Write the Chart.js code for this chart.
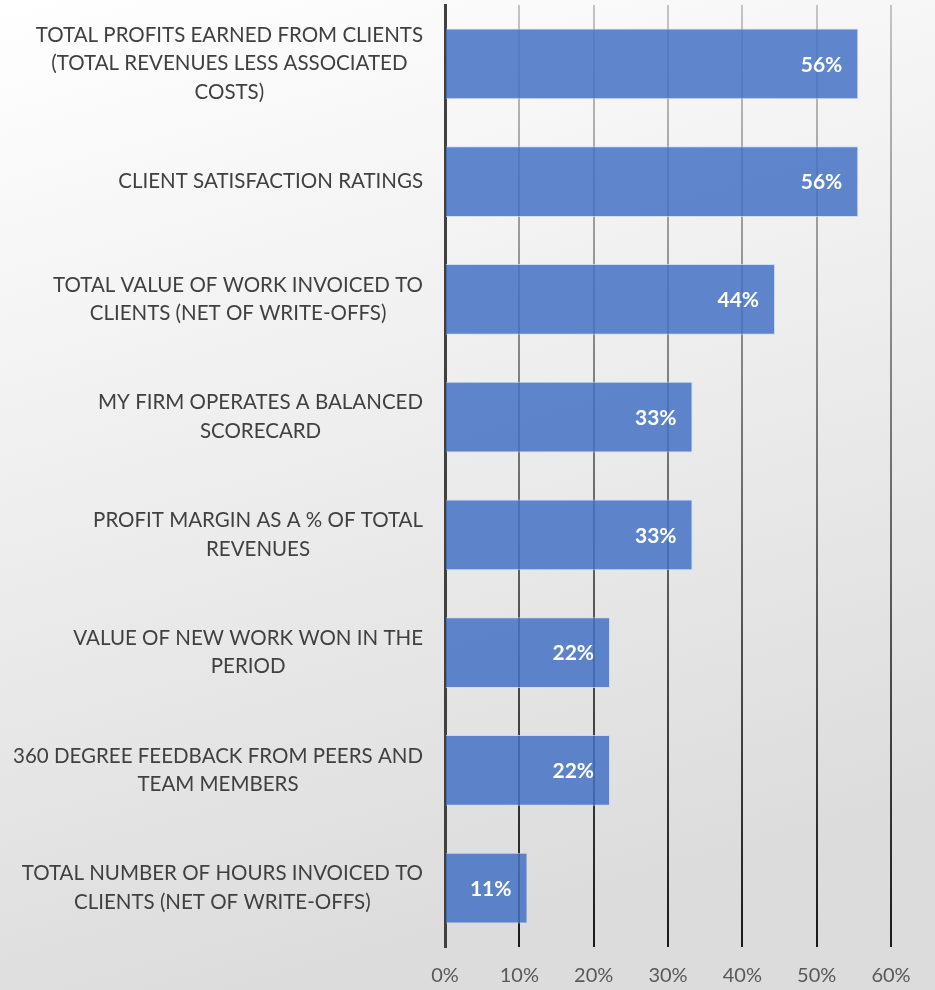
<!DOCTYPE html>
<html>
<head>
<meta charset="utf-8">
<script src="https://cdn.jsdelivr.net/npm/chart.js@4"></script>
<style>
  body { margin: 0; background: #fff; }
  #chart { display: block; }
</style>
</head>
<body>
<canvas id="chart" width="935" height="990"></canvas>
<script>
// data
const categories = [
  ['TOTAL PROFITS EARNED FROM CLIENTS', '(TOTAL REVENUES LESS ASSOCIATED', 'COSTS)'],
  ['CLIENT SATISFACTION RATINGS'],
  ['TOTAL VALUE OF WORK INVOICED TO', 'CLIENTS (NET OF WRITE-OFFS)'],
  ['MY FIRM OPERATES A BALANCED', 'SCORECARD'],
  ['PROFIT MARGIN AS A % OF TOTAL', 'REVENUES'],
  ['VALUE OF NEW WORK WON IN THE', 'PERIOD'],
  ['360 DEGREE FEEDBACK FROM PEERS AND', 'TEAM MEMBERS'],
  ['TOTAL NUMBER OF HOURS INVOICED TO', 'CLIENTS (NET OF WRITE-OFFS)']
];
const values = [55.6, 55.6, 44.4, 33.3, 33.3, 22.2, 22.2, 11.1];
const xTicks = [0, 10, 20, 30, 40, 50, 60];

const FONT = 'Lato, "Open Sans", sans-serif';

// fond gris dégradé
const bgPlugin = {
  id: 'bg',
  beforeDraw(chart) {
    const c = chart.ctx;
    const g = c.createLinearGradient(0, 0, chart.width * 0.3, chart.height);
    g.addColorStop(0, '#ffffff');
    g.addColorStop(1, '#dcdcdc');
    c.save();
    c.fillStyle = g;
    c.fillRect(0, 0, chart.width, chart.height);
    c.restore();
  }
};

// category labels: block right-aligned, lines centered inside
const catLabels = {
  id: 'catLabels',
  afterDraw(chart) {
    const c = chart.ctx;
    const y = chart.scales.y;
    c.save();
    c.font = '20.5px ' + FONT;
    c.fillStyle = '#404040';
    c.textAlign = 'center';
    c.textBaseline = 'middle';
    const right = chart.chartArea.left - 22;
    const lh = 28.5;
    categories.forEach((lines, i) => {
      const w = Math.max(...lines.map(l => c.measureText(l).width));
      const cx = right - w / 2;
      const cy = y.getPixelForValue(i);
      const top = cy - (lines.length - 1) * lh / 2;
      lines.forEach((l, k) => c.fillText(l, cx, top + k * lh));
    });
    c.restore();
  }
};

// value labels inside bar end
const valLabels = {
  id: 'valLabels',
  afterDatasetsDraw(chart) {
    const c = chart.ctx;
    const meta = chart.getDatasetMeta(0);
    c.save();
    c.font = 'bold 21px ' + FONT;
    c.fillStyle = '#ffffff';
    c.textAlign = 'right';
    c.textBaseline = 'middle';
    meta.data.forEach((bar, i) => {
      c.fillText(Math.round(values[i]) + '%', bar.x - 16, bar.y + 1);
    });
    c.restore();
  }
};

new Chart(document.getElementById('chart'), {
  type: 'bar',
  data: {
    labels: categories.map(l => l.join(' ')),
    datasets: [{
      data: values,
      backgroundColor: 'rgba(68, 114, 196, 0.85)',
      borderColor: 'rgba(200, 215, 240, 0.8)',
      borderWidth: 1,
      borderSkipped: 'left',
      barPercentage: 1,
      categoryPercentage: 0.6
    }]
  },
  options: {
    indexAxis: 'y',
    responsive: false,
    animation: false,
    layout: { padding: { top: 5, right: 44, bottom: 0, left: 0 } },
    plugins: { legend: { display: false }, tooltip: { enabled: false } },
    scales: {
      x: {
        min: 0,
        max: 60,
        afterBuildTicks: s => { s.ticks = xTicks.map(v => ({ value: v })); },
        afterFit: s => { s.height = 43; },
        ticks: {
          callback: v => v + '%',
          color: '#595959',
          font: { family: FONT, size: 20 },
          padding: 17
        },
        grid: {
          drawTicks: false,
          lineWidth: 2,
          color: ctx => {
            const area = ctx.chart.chartArea;
            if (!area) return '#888';
            const g = ctx.chart.ctx.createLinearGradient(0, area.top, 0, area.bottom);
            g.addColorStop(0, '#c4c4c4');
            g.addColorStop(1, '#1a1a1a');
            return g;
          }
        },
        border: { display: false }
      },
      y: {
        ticks: { display: false },
        afterFit: s => { s.width = 445; },
        grid: { display: false, drawTicks: false },
        border: { display: true, color: '#404040', width: 3 }
      }
    }
  },
  plugins: [bgPlugin, catLabels, valLabels]
});
</script>
</body>
</html>
